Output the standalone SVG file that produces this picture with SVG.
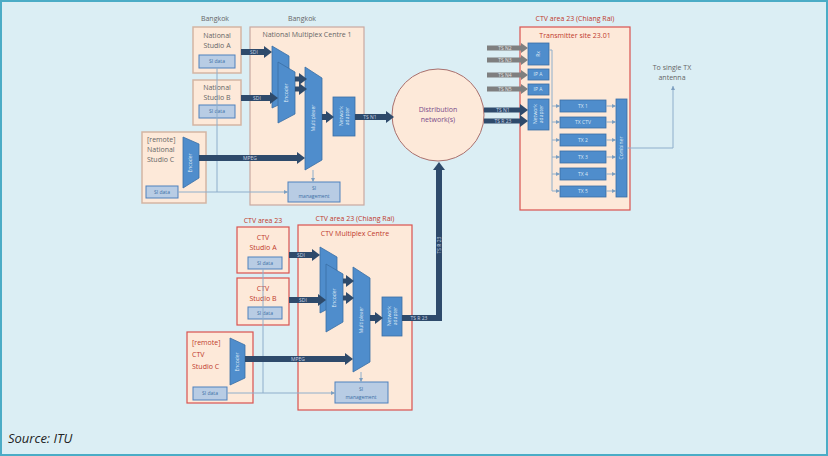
<svg xmlns="http://www.w3.org/2000/svg" width="828" height="456" viewBox="0 0 828 456">
<defs>
<style>
text{font-family:"Open Sans","Liberation Sans",sans-serif}
.bg{fill:#dbeef4;stroke:#4bacc6;stroke-width:2}
.nst{fill:#fde9d9;stroke:#d4b5a3;stroke-width:1.5}
.cst{fill:#fde9d9;stroke:#d9534f;stroke-width:1.2}
.nmc{fill:#fde9d9;stroke:#c9a9a0;stroke-width:1.2}
.si{fill:#b8cce4;stroke:#4f81bd;stroke-width:1}
.blue{fill:#4f8dcc;stroke:#3a6ea5;stroke-width:0.8}
.nt{font-size:7px;fill:#666;text-anchor:middle}
.ct{font-size:7px;fill:#c0392b;text-anchor:middle}
.sit{font-size:5px;fill:#3a6ea5;text-anchor:middle}
.wt{font-size:5px;fill:#dde8f5;text-anchor:middle}
.al{font-size:5px;fill:#c8d4e4;text-anchor:middle}
.thick{stroke:#2e4a6b;stroke-width:6;fill:none}
.grey{stroke:#7f7f7f;stroke-width:5;fill:none}
.thin{stroke:#8eaecb;stroke-width:1;fill:none}
</style>
<marker id="ah" markerUnits="userSpaceOnUse" markerWidth="8" markerHeight="12" viewBox="0 0 8 12" refX="0" refY="6" orient="auto"><path d="M0,0L8,6L0,12z" fill="#2e4a6b"/></marker>
<marker id="ag" markerUnits="userSpaceOnUse" markerWidth="7" markerHeight="10" viewBox="0 0 7 10" refX="0" refY="5" orient="auto"><path d="M0,0L7,5L0,10z" fill="#7f7f7f"/></marker>
<marker id="as" markerUnits="userSpaceOnUse" markerWidth="4" markerHeight="4" viewBox="0 0 4 4" refX="4" refY="2" orient="auto"><path d="M0,0L4,2L0,4z" fill="#7d9fc0"/></marker>
</defs>
<rect class="bg" x="1" y="1" width="826" height="454"/>
<text x="8" y="443" style="font-size:13px;font-style:italic;fill:#222">Source: ITU</text>

<g id="labels">
<text class="nt" x="215" y="21">Bangkok</text>
<text class="nt" x="302" y="21">Bangkok</text>
<text class="ct" x="263" y="223">CTV area 23</text>
<text class="ct" x="355" y="221">CTV area 23 (Chiang Rai)</text>
<text class="ct" x="575" y="21">CTV area 23 (Chiang Rai)</text>
<text class="nt" x="672" y="70">To single TX</text>
<text class="nt" x="672" y="80">antenna</text>
</g>

<g id="studio-a">
<rect class="nst" x="193" y="27" width="48" height="46"/>
<text class="nt" x="217" y="38">National</text>
<text class="nt" x="217" y="48">Studio A</text>
<rect class="si" x="199" y="55" width="36" height="13"/>
<text class="sit" x="217" y="63">SI data</text>
</g>
<g id="studio-b">
<rect class="nst" x="193" y="80" width="48" height="45"/>
<text class="nt" x="217" y="90">National</text>
<text class="nt" x="217" y="100">Studio B</text>
<rect class="si" x="199" y="105" width="36" height="13"/>
<text class="sit" x="217" y="113">SI data</text>
</g>
<g id="studio-c">
<rect class="nst" x="142" y="132" width="64" height="71"/>
<text class="nt" x="147" y="142" style="text-anchor:start">[remote]</text>
<text class="nt" x="147" y="152" style="text-anchor:start">National</text>
<text class="nt" x="147" y="162" style="text-anchor:start">Studio C</text>
<polygon class="blue" points="183,137 199,144 199,178 183,188"/>
<text class="wt" transform="translate(192,163) rotate(-90)">Encoder</text>
<rect class="si" x="146" y="186" width="32" height="12"/>
<text class="sit" x="162" y="194">SI data</text>
</g>

<g id="nmc1">
<rect class="nmc" x="250" y="27" width="114" height="178"/>
<text class="nt" x="307" y="37">National Multiplex Centre 1</text>
<polygon class="blue" points="272,46 289,56 289,100 272,108"/>
<polygon class="blue" points="278,62 295,72 295,114 278,123"/>
<text class="wt" transform="translate(288,93) rotate(-90)">Encoder</text>
<polygon class="blue" points="305,67 322,78 322,160 305,170"/>
<text class="wt" transform="translate(315,118) rotate(-90)">Multiplexer</text>
<rect class="blue" x="333" y="97" width="22" height="39"/>
<text class="wt" transform="translate(343,116) rotate(-90)">Network</text>
<text class="wt" transform="translate(349,116) rotate(-90)">adapter</text>
<rect class="si" x="288" y="182" width="52" height="20"/>
<text class="sit" x="314" y="190">SI</text>
<text class="sit" x="314" y="198">management</text>
</g>

<g id="distribution">
<circle cx="438" cy="115" r="46" fill="#fde9d9" stroke="#a8706e" stroke-width="1"/>
<text x="438" y="112" style="font-size:7px;fill:#7a4b8a;text-anchor:middle">Distribution</text>
<text x="438" y="122" style="font-size:7px;fill:#7a4b8a;text-anchor:middle">network(s)</text>
</g>

<g id="ctv-a">
<rect class="cst" x="237" y="227" width="52" height="46"/>
<text class="ct" x="263" y="240">CTV</text>
<text class="ct" x="263" y="250">Studio A</text>
<rect class="si" x="248" y="257" width="34" height="12"/>
<text class="sit" x="265" y="265">SI data</text>
</g>
<g id="ctv-b">
<rect class="cst" x="237" y="278" width="52" height="47"/>
<text class="ct" x="263" y="291">CTV</text>
<text class="ct" x="263" y="301">Studio B</text>
<rect class="si" x="248" y="307" width="34" height="12"/>
<text class="sit" x="265" y="315">SI data</text>
</g>
<g id="ctv-c">
<rect class="cst" x="187" y="332" width="66" height="71"/>
<text class="ct" x="192" y="345" style="text-anchor:start">[remote]</text>
<text class="ct" x="192" y="357" style="text-anchor:start">CTV</text>
<text class="ct" x="192" y="369" style="text-anchor:start">Studio C</text>
<polygon class="blue" points="230,338 245,345 245,378 230,385"/>
<text class="wt" transform="translate(239,362) rotate(-90)">Encoder</text>
<rect class="si" x="193" y="387" width="34" height="13"/>
<text class="sit" x="210" y="395">SI data</text>
</g>

<g id="ctvmc">
<rect class="cst" x="298" y="225" width="114" height="185"/>
<text class="ct" x="355" y="236">CTV Multiplex Centre</text>
<polygon class="blue" points="320,247 337,257 337,304 320,313"/>
<polygon class="blue" points="326,264 343,274 343,322 326,332"/>
<text class="wt" transform="translate(336,298) rotate(-90)">Encoder</text>
<polygon class="blue" points="353,267 370,278 370,362 353,372"/>
<text class="wt" transform="translate(363,320) rotate(-90)">Multiplexer</text>
<rect class="blue" x="382" y="297" width="20" height="39"/>
<text class="wt" transform="translate(391,316) rotate(-90)">Network</text>
<text class="wt" transform="translate(397,316) rotate(-90)">adapter</text>
<rect class="si" x="335" y="382" width="53" height="21"/>
<text class="sit" x="361" y="391">SI</text>
<text class="sit" x="361" y="399">management</text>
</g>

<g id="tx-site">
<rect class="cst" x="520" y="27" width="110" height="183"/>
<text class="ct" x="575" y="38">Transmitter site 23.01</text>
<rect class="blue" x="528" y="43" width="21" height="22"/>
<text class="wt" transform="translate(540,54) rotate(-90)">Rx</text>
<rect class="blue" x="528" y="69" width="21" height="11"/>
<text class="wt" x="538" y="76">IP A</text>
<rect class="blue" x="528" y="84" width="21" height="11"/>
<text class="wt" x="538" y="91">IP A</text>
<rect class="blue" x="528" y="99" width="21" height="31"/>
<text class="wt" transform="translate(537,114) rotate(-90)">Network</text>
<text class="wt" transform="translate(543,114) rotate(-90)">adapter</text>
<rect class="blue" x="560" y="100" width="46" height="12"/>
<text class="wt" x="583" y="108">TX 1</text>
<rect class="blue" x="560" y="117" width="46" height="11"/>
<text class="wt" x="583" y="124">TX CTV</text>
<rect class="blue" x="560" y="134" width="46" height="12"/>
<text class="wt" x="583" y="142">TX 2</text>
<rect class="blue" x="560" y="151" width="46" height="12"/>
<text class="wt" x="583" y="159">TX 3</text>
<rect class="blue" x="560" y="168" width="46" height="12"/>
<text class="wt" x="583" y="176">TX 4</text>
<rect class="blue" x="560" y="186" width="46" height="11"/>
<text class="wt" x="583" y="193">TX 5</text>
<rect class="blue" x="616" y="99" width="11" height="98"/>
<text class="wt" transform="translate(623,148) rotate(-90)">Combiner</text>
</g>

<g id="connectors">
<path class="thin" d="M217,68V192"/>
<path class="thin" d="M178,192H288" marker-end="url(#as)"/>
<path class="thin" d="M313,170V182" marker-end="url(#as)"/>
<path class="thin" d="M263,269V393"/>
<path class="thin" d="M227,393H335" marker-end="url(#as)"/>
<path class="thin" d="M361,372V382" marker-end="url(#as)"/>
<path class="thin" d="M549,50H552V191"/>
<path class="thin" d="M552,106H560" marker-end="url(#as)"/>
<path class="thin" d="M552,122H560" marker-end="url(#as)"/>
<path class="thin" d="M552,140H560" marker-end="url(#as)"/>
<path class="thin" d="M552,157H560" marker-end="url(#as)"/>
<path class="thin" d="M552,174H560" marker-end="url(#as)"/>
<path class="thin" d="M552,191H560" marker-end="url(#as)"/>
<path class="thin" d="M606,106H616" marker-end="url(#as)"/>
<path class="thin" d="M606,122H616" marker-end="url(#as)"/>
<path class="thin" d="M606,140H616" marker-end="url(#as)"/>
<path class="thin" d="M606,157H616" marker-end="url(#as)"/>
<path class="thin" d="M606,174H616" marker-end="url(#as)"/>
<path class="thin" d="M606,191H616" marker-end="url(#as)"/>
<path class="thin" d="M627,148H673V86" marker-end="url(#as)"/>
<path class="thick" d="M241,52H264" marker-end="url(#ah)"/>
<text class="al" x="254" y="54">SDI</text>
<path class="thick" d="M241,98H270" marker-end="url(#ah)"/>
<text class="al" x="257" y="100">SDI</text>
<path class="thick" d="M295,79H299" marker-end="url(#ah)" style="stroke-width:5"/>
<path class="thick" d="M295,89H299" marker-end="url(#ah)" style="stroke-width:5"/>
<path class="thick" d="M322,117H326" marker-end="url(#ah)"/>
<path class="thick" d="M355,117H386" marker-end="url(#ah)"/>
<text class="al" x="370" y="119">TS N1</text>
<path class="thick" d="M199,158H297" marker-end="url(#ah)"/>
<text class="al" x="250" y="160">MPEG</text>
<path class="thick" d="M289,255H312" marker-end="url(#ah)"/>
<text class="al" x="301" y="257">SDI</text>
<path class="thick" d="M289,300H318" marker-end="url(#ah)"/>
<text class="al" x="303" y="302">SDI</text>
<path class="thick" d="M343,281H346" marker-end="url(#ah)" style="stroke-width:5"/>
<path class="thick" d="M343,298H346" marker-end="url(#ah)" style="stroke-width:5"/>
<path class="thick" d="M370,318H375" marker-end="url(#ah)"/>
<path class="thick" d="M245,359H345" marker-end="url(#ah)"/>
<text class="al" x="298" y="361">MPEG</text>
<path class="thick" d="M402,318H439V170" marker-end="url(#ah)"/>
<text class="al" x="419" y="320">TS R 23</text>
<text class="al" transform="translate(441,245) rotate(-90)">TS R 23</text>
<path class="grey" d="M487,48H521" marker-end="url(#ag)"/>
<text class="al" x="505" y="50" style="fill:#e0e0e0">TS N2</text>
<path class="grey" d="M487,60H521" marker-end="url(#ag)"/>
<text class="al" x="505" y="62" style="fill:#e0e0e0">TS N3</text>
<path class="grey" d="M487,75H521" marker-end="url(#ag)"/>
<text class="al" x="505" y="77" style="fill:#e0e0e0">TS N4</text>
<path class="grey" d="M487,89H521" marker-end="url(#ag)"/>
<text class="al" x="505" y="91" style="fill:#e0e0e0">TS N5</text>
<path class="thick" d="M484,110H520" marker-end="url(#ah)" style="stroke-width:5"/>
<text class="al" x="503" y="112">TS N1</text>
<path class="thick" d="M484,121H520" marker-end="url(#ah)" style="stroke-width:5"/>
<text class="al" x="503" y="123">TS R 23</text>
</g>
</svg>
